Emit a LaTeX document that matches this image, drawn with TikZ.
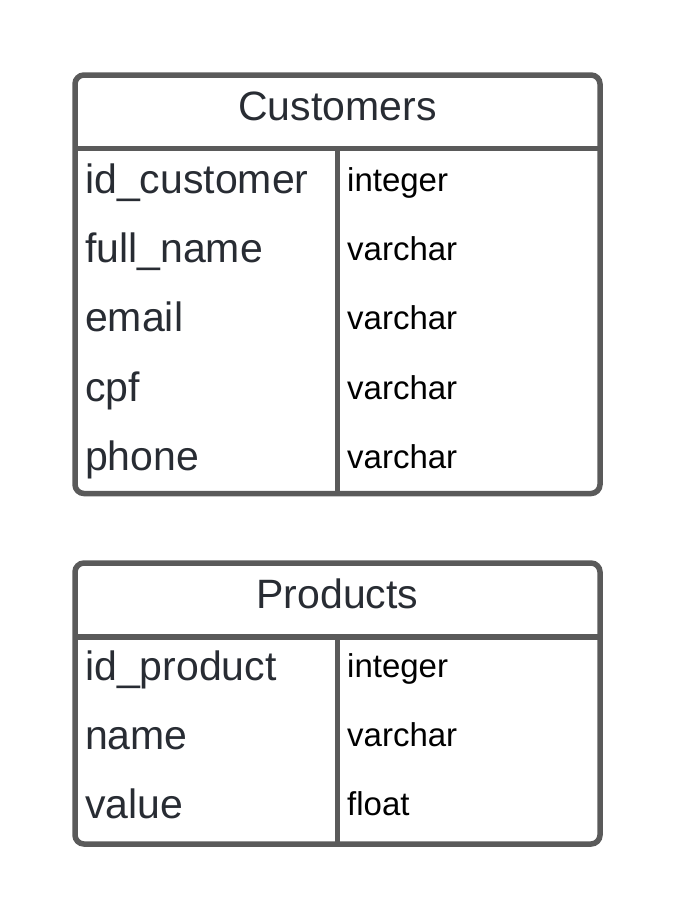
\documentclass[tikz,border=0pt]{standalone}
\usepackage{fontspec}
\setmainfont{Liberation Sans}
\definecolor{linegray}{HTML}{5A5A5A}
\definecolor{namecol}{HTML}{282C33}
\begin{document}
\begin{tikzpicture}[x=1pt,y=-1pt,
  tbl/.style={draw=linegray,line width=5.5pt,rounded corners=9pt},
  sep/.style={draw=linegray,line width=5.5pt},
  title/.style={anchor=base,inner sep=0pt,font=\fontsize{41}{48}\selectfont,text=namecol},
  fname/.style={anchor=base west,inner sep=0pt,font=\fontsize{41}{47}\selectfont,text=namecol},
  ftype/.style={anchor=base west,inner sep=0pt,font=\fontsize{33}{38}\selectfont,text=black}]
\useasboundingbox (0,0) rectangle (675,921);
% Customers
\draw[tbl] (75,75) rectangle (600,493.5);
\draw[sep] (75,148.5) -- (600,148.5);
\draw[sep] (337.5,148.5) -- (337.5,493.5);
\node[title] (ct) at (337.5,120.5) {Customers};
\node[fname] (c1) at (85,193) {id\_customer};
\node[fname] (c2) at (85,262) {full\_name};
\node[fname] (c3) at (85,331.5) {email};
\node[fname] (c4) at (85,401) {cpf};
\node[fname] (c5) at (85,470) {phone};
\node[ftype] (t1) at (347,191) {integer};
\node[ftype] (t2) at (347,260) {varchar};
\node[ftype] (t3) at (347,329.5) {varchar};
\node[ftype] (t4) at (347,399) {varchar};
\node[ftype] (t5) at (347,468) {varchar};
% Products
\draw[tbl] (75,563) rectangle (600,844);
\draw[sep] (75,637) -- (600,637);
\draw[sep] (337.5,637) -- (337.5,844);
\node[title] (pt) at (337.5,608.5) {Products};
\node[fname] (p1) at (85,680) {id\_product};
\node[fname] (p2) at (85,749) {name};
\node[fname] (p3) at (85,818) {value};
\node[ftype] (u1) at (347,677.5) {integer};
\node[ftype] (u2) at (347,746.5) {varchar};
\node[ftype] (u3) at (347,815.5) {float};
\end{tikzpicture}
\end{document}
